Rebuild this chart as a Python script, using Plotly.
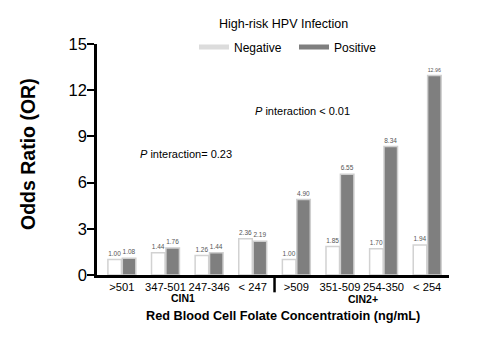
import plotly.graph_objects as go

# Folate concentration groups (ng/mL) within each CIN grade
categories = [">501", "347-501", "247-346", "< 247", ">509", "351-509", "254-350", "< 254"]
grades = ["CIN1", "CIN2+"]

# Odds ratios by high-risk HPV infection status
or_negative = [1.00, 1.44, 1.26, 2.36, 1.00, 1.85, 1.70, 1.94]
or_positive = [1.08, 1.76, 1.44, 2.19, 4.90, 6.55, 8.34, 12.96]

y_ticks = [0, 3, 6, 9, 12, 15]

FONT = "Liberation Sans, Arial, sans-serif"
xpos = list(range(len(categories)))

# plot-area geometry in pixels
W, H = 489, 342
ML, MR, MT, MB = 97, 40, 44, 67
PW, PH = W - ML - MR, H - MT - MB


def px_x(px):
    return (px - ML) / PW


def px_y(py):
    return (H - MB - py) / PH


NEG_FILL, NEG_EDGE = "white", "#d2d2d2"
POS_FILL, POS_EDGE = "#7f7f7f", "#cfcfcf"

fig = go.Figure()
fig.add_trace(go.Bar(
    x=xpos, y=or_negative, name="Negative", showlegend=False,
    marker=dict(color=NEG_FILL, line=dict(color=NEG_EDGE, width=1.5)),
    text=[f"{v:.2f}" for v in or_negative], textposition="outside",
    textfont=dict(size=6.5, color="#555555"), cliponaxis=False,
))
fig.add_trace(go.Bar(
    x=xpos, y=or_positive, name="Positive", showlegend=False,
    marker=dict(color=POS_FILL, line=dict(color=POS_EDGE, width=1.5)),
    text=[f"{v:.2f}" for v in or_positive], textposition="outside",
    textfont=dict(size=6.5, color="#555555"), cliponaxis=False,
))

# flat legend keys for the two infection groups
fig.add_trace(go.Scatter(x=[None], y=[None], mode="lines", name="Negative",
                         line=dict(color="#dcdcdc", width=5)))
fig.add_trace(go.Scatter(x=[None], y=[None], mode="lines", name="Positive",
                         line=dict(color=POS_FILL, width=5)))

fig.update_layout(
    width=W, height=H,
    margin=dict(l=ML, r=MR, t=MT, b=MB, autoexpand=False),
    paper_bgcolor="white", plot_bgcolor="white",
    font=dict(family=FONT, color="black"),
    barmode="group", bargap=0.34, bargroupgap=0.06,
    showlegend=True,
    legend=dict(
        orientation="h", x=px_x(194), xanchor="left",
        y=px_y(47), yanchor="middle",
        font=dict(size=12), bgcolor="rgba(0,0,0,0)",
        itemwidth=30, entrywidth=55,
    ),
    xaxis=dict(
        range=[-0.57, 7.5], tickvals=xpos, ticktext=categories, tickangle=0,
        showline=True, linecolor="black", linewidth=2.5,
        ticks="", tickfont=dict(size=11.2), showgrid=False, zeroline=False,
    ),
    yaxis=dict(
        range=[0, 15], tickvals=y_ticks,
        showline=True, linecolor="black", linewidth=2.5,
        ticks="outside", ticklen=7, tickwidth=2, tickcolor="black",
        tickfont=dict(size=16.5), ticklabelstandoff=-3,
        showgrid=False, zeroline=False,
    ),
)

# separator between the CIN1 and CIN2+ groups
fig.add_shape(type="line", xref="x", yref="y domain",
              x0=3.5, x1=3.5, y0=0, y1=-0.075,
              line=dict(color="black", width=2.5))


def note(text, x, y, size, xref="paper", yref="paper", angle=0):
    fig.add_annotation(x=x, y=y, xref=xref, yref=yref, text=text,
                       textangle=angle, showarrow=False,
                       xanchor="center", yanchor="middle",
                       font=dict(size=size))


# legend heading
note("High-risk HPV Infection", px_x(283), px_y(24), 12.5)

# grade labels under each group
note("<b>CIN1</b>", 1.4, px_y(298), 10.5, xref="x")
note("<b>CIN2+</b>", 5.53, px_y(299), 10.5, xref="x")

# axis titles
note("<b>Red Blood Cell Folate Concentratioin (ng/mL)</b>", px_x(283), px_y(316), 12.7)
note("<b>Odds Ratio (OR)</b>", px_x(28), px_y(154), 19.5, angle=-90)

# interaction p-values
note("<i>P</i> interaction= 0.23", 1.47, 7.86, 11, xref="x", yref="y")
note("<i>P</i> interaction < 0.01", 4.15, 10.65, 11, xref="x", yref="y")

fig.write_html("out.html")
